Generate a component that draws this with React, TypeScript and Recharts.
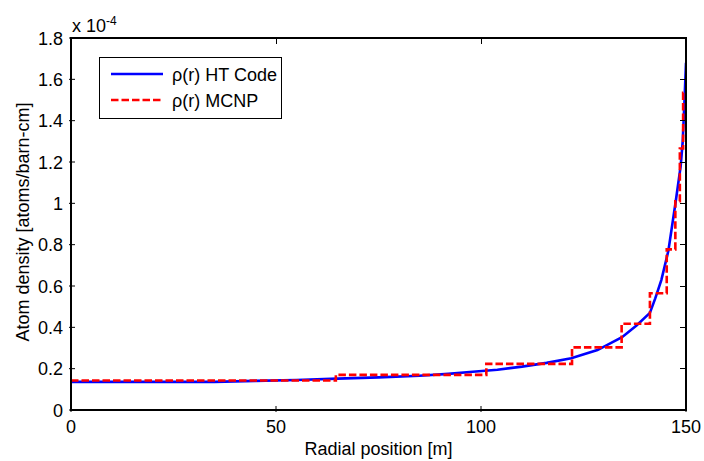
import { Line, LineChart, XAxis, YAxis } from "recharts"

// HT code profile (x 1e-4 atoms/barn-cm) vs radial position [m]
const htRadius = [
  0, 35, 45, 55, 65, 75, 85, 92, 98, 104, 110, 116, 122, 128.4, 134.4, 138, 141.2, 142.5, 144, 145.7,
  147.5, 148.7, 149.2, 149.6, 150,
]
const htDensity = [
  0.136, 0.136, 0.141, 0.145, 0.152, 0.158, 0.166, 0.175, 0.185, 0.195, 0.21, 0.228, 0.25, 0.29, 0.352,
  0.41, 0.47, 0.54, 0.63, 0.77, 1.01, 1.18, 1.3, 1.48, 1.68,
]

// MCNP cell values, each held until the next radius
const mcnpRadius = [0, 64.6, 101.3, 122.2, 134.3, 141.2, 145.3, 147.4, 148.5, 149.3, 150]
const mcnpDensity = [0.143, 0.17, 0.223, 0.303, 0.417, 0.565, 0.777, 1.01, 1.265, 1.535, 1.535]

const xTicks = [0, 50, 100, 150]
const yTicks = [0, 0.2, 0.4, 0.6, 0.8, 1, 1.2, 1.4, 1.6, 1.8]
const X_MAX = 150
const Y_MAX = 1.8

const htData = htRadius.map((r, i) => ({ r, rho: htDensity[i] }))
const mcnpData = mcnpRadius.map((r, i) => ({ r, rho: mcnpDensity[i] }))

const FONT = '"Liberation Sans", Arial, Helvetica, sans-serif'
const FS = 18
const TICK = 6

const W = 696
const H = 453
const MARGIN = { top: 30, right: 18, bottom: 0, left: 0 }
const Y_AXIS_W = 63
const X_AXIS_H = 51
const PLOT_X = MARGIN.left + Y_AXIS_W
const PLOT_Y = MARGIN.top
const PLOT_W = W - MARGIN.left - MARGIN.right - Y_AXIS_W
const PLOT_H = H - MARGIN.top - MARGIN.bottom - X_AXIS_H

function fmtY(v: number) {
  return Number.isInteger(v) ? String(v) : v.toFixed(1)
}

function BottomTick({ x, y, payload }: any) {
  return (
    <g>
      <line x1={x} y1={y} x2={x} y2={y - TICK} stroke="#000" />
      <text x={x} y={y + 21} textAnchor="middle" fontSize={FS} fontFamily={FONT} fill="#000">
        {payload.value}
      </text>
    </g>
  )
}

function LeftTick({ x, y, payload }: any) {
  return (
    <g>
      <line x1={x} y1={y} x2={x + TICK} y2={y} stroke="#000" />
      <text x={x - 6} y={y + 6.5} textAnchor="end" fontSize={FS} fontFamily={FONT} fill="#000">
        {fmtY(payload.value)}
      </text>
    </g>
  )
}

function YTitle({ viewBox }: any) {
  const cx = 21
  const cy = viewBox.y + viewBox.height / 2 - 2
  return (
    <text
      x={cx}
      y={cy}
      transform={`rotate(-90, ${cx}, ${cy})`}
      textAnchor="middle"
      fontSize={18}
      fontFamily={FONT}
      fill="#000"
    >
      Atom density [atoms/barn-cm]
    </text>
  )
}

function XTitle({ viewBox }: any) {
  const cx = viewBox.x + viewBox.width / 2
  return (
    <text x={cx} y={viewBox.y + 45} textAnchor="middle" fontSize={FS} fontFamily={FONT} fill="#000">
      Radial position [m]
    </text>
  )
}

// MATLAB "box on": full frame with inward ticks mirrored on top/right
function BoxFrame() {
  const sx = (v: number) => PLOT_X + (v / X_MAX) * PLOT_W
  const sy = (v: number) => PLOT_Y + PLOT_H - (v / Y_MAX) * PLOT_H
  const top = PLOT_Y
  const right = PLOT_X + PLOT_W
  return (
    <svg
      width={W}
      height={H}
      shapeRendering="crispEdges"
      style={{ position: "absolute", left: 0, top: 0, pointerEvents: "none", zIndex: 2 }}
    >
      <rect x={PLOT_X} y={top} width={PLOT_W} height={PLOT_H} fill="none" stroke="#000" strokeWidth={1.2} />
      {xTicks.slice(1, -1).map((t) => (
        <line key={`x${t}`} x1={sx(t)} y1={top} x2={sx(t)} y2={top + TICK} stroke="#000" />
      ))}
      {yTicks.slice(1, -1).map((t) => (
        <line key={`y${t}`} x1={right} y1={sy(t)} x2={right - TICK} y2={sy(t)} stroke="#000" />
      ))}
    </svg>
  )
}

export default function App() {
  return (
    <div style={{ position: "absolute", left: 8, top: 8, width: W, height: H, background: "#fff" }}>
      <LineChart width={W} height={H} margin={MARGIN}>
        <XAxis
          dataKey="r"
          type="number"
          domain={[0, X_MAX]}
          ticks={xTicks}
          height={X_AXIS_H}
          axisLine={{ stroke: "#000" }}
          tickLine={false}
          tickSize={0}
          tick={<BottomTick />}
          interval={0}
          allowDataOverflow
          label={{ position: "insideBottom", content: XTitle }}
        />
        <YAxis
          type="number"
          domain={[0, Y_MAX]}
          ticks={yTicks}
          width={Y_AXIS_W}
          axisLine={{ stroke: "#000" }}
          tickLine={false}
          tickSize={0}
          tick={<LeftTick />}
          interval={0}
          allowDataOverflow
          label={{ position: "center", content: YTitle }}
        />
        <Line
          data={htData}
          dataKey="rho"
          type="linear"
          stroke="#0000ff"
          strokeWidth={2.6}
          dot={false}
          isAnimationActive={false}
        />
        <Line
          data={mcnpData}
          dataKey="rho"
          type="stepAfter"
          stroke="#ff0000"
          strokeWidth={2.6}
          strokeDasharray="7.5 3"
          dot={false}
          isAnimationActive={false}
        />
      </LineChart>

      <BoxFrame />

      {/* axis multiplier, MATLAB style */}
      <div
        style={{
          position: "absolute",
          left: 64,
          top: 3,
          fontFamily: FONT,
          fontSize: FS,
          lineHeight: "20px",
          whiteSpace: "nowrap",
        }}
      >
        x 10<sup style={{ fontSize: 12, verticalAlign: "7px" }}>-4</sup>
      </div>

      {/* legend box */}
      <div
        style={{
          position: "absolute",
          left: 91,
          top: 49,
          width: 181,
          height: 60,
          border: "1px solid #000",
          background: "#fff",
          zIndex: 3,
        }}
      >
        <svg width={181} height={60} style={{ display: "block" }}>
          <line x1={11} x2={63} y1={16} y2={16} stroke="#0000ff" strokeWidth={2.6} />
          <line x1={11} x2={63} y1={42} y2={42} stroke="#ff0000" strokeWidth={2.6} strokeDasharray="7.5 3" />
          <text x={72} y={23} fontSize={FS} fontFamily={FONT} fill="#000">
            ρ(r) HT Code
          </text>
          <text x={72} y={49} fontSize={FS} fontFamily={FONT} fill="#000">
            ρ(r) MCNP
          </text>
        </svg>
      </div>
    </div>
  )
}
